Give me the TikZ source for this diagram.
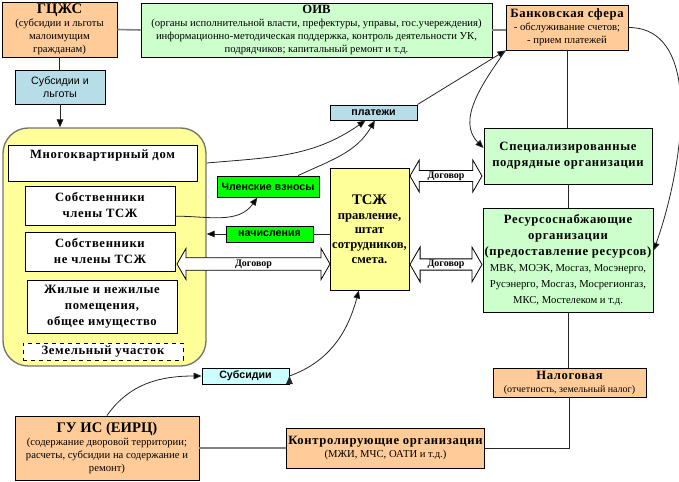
\documentclass[tikz,border=0pt]{standalone}
\usepackage{fontspec}
\setmainfont{Liberation Serif}
\setsansfont{Liberation Sans}
\newfontfamily\spacedserif{Liberation Serif}[LetterSpace=5]
\usepackage{tikz}
\usetikzlibrary{arrows.meta,shapes.arrows}

\definecolor{orangefill}{HTML}{FFCC99}
\definecolor{greenfill}{HTML}{CCFFCC}
\definecolor{yellowfill}{HTML}{FFFF99}
\definecolor{bluefill}{HTML}{B7DEE8}
\definecolor{cyanfill}{HTML}{CCFFFF}
\definecolor{brightgreen}{HTML}{00FF00}

\newcommand{\hdr}{\spacedserif\bfseries\fontsize{9.5}{12}\selectfont}
\newcommand{\sml}{\normalfont\fontsize{8}{9.75}\selectfont}
\newcommand{\lbl}{\sffamily\bfseries\fontsize{8}{9}\selectfont}
\newcommand{\bigttl}{\normalfont\bfseries\fontsize{11}{13}\selectfont}

\begin{document}
\begin{tikzpicture}[x=0.75pt,y=-0.75pt,
	box/.style={draw,line width=0.7pt,inner sep=1pt,align=center,font=\sml},
	tag/.style={draw,line width=0.7pt,inner sep=0pt,font=\lbl},
	dogovor/.style={double arrow,draw,fill=white,line width=0.6pt,inner sep=0pt,
		double arrow tip angle=120,font=\bfseries\fontsize{7.5}{9}\selectfont},
	conn/.style={line width=0.6pt,draw=black!85},
	grayline/.style={line width=1.2pt,draw=black!50}]
	\useasboundingbox (0,0) rectangle (679,482);
	% top row
	\node[box,fill=orangefill,minimum width=86.25pt,minimum height=41.25pt] (gczhs) at (59.5,29.5)
		{\bigttl ГЦЖС\\ (субсидии и льготы\\ малоимущим\\ гражданам)};
	\node[box,fill=greenfill,minimum width=263.25pt,minimum height=40.5pt] (oiv) at (316.5,30)
		{\bfseries\fontsize{9.5}{11}\selectfont ОИВ\\ (органы исполнительной власти, префектуры, управы, гос.учереждения)\\
		информационно-методическая поддержка, контроль деятельности УК,\\ подрядчиков; капитальный ремонт и т.д.};
	\node[box,fill=orangefill,minimum width=91.5pt,minimum height=33.75pt] (bank) at (567,27.5)
		{\hdr Банковская сфера\\ - обслуживание счетов;\\ - прием платежей};
	\node[box,fill=bluefill,minimum width=67.5pt,minimum height=25.5pt,font=\sffamily\fontsize{8}{10}\selectfont] (subl) at (60,87)
		{Субсидии и\\ льготы};
	%
	% house
	\node[draw=black!55,fill=yellowfill,rounded corners=19pt,line width=1pt,
		minimum width=152.25pt,minimum height=178.5pt] (house) at (104.5,247) {};
	\node[box,fill=white,minimum width=141.75pt,minimum height=27pt,text depth=14pt,font=\hdr] (mkd) at (102.5,163)
		{Многоквартирный дом};
	\node[box,fill=white,minimum width=112.5pt,minimum height=29.25pt,font=\hdr] (chl) at (100,205.5)
		{Собственники\\ члены ТСЖ};
	\node[box,fill=white,minimum width=112.5pt,minimum height=29.25pt,font=\hdr] (nechl) at (100,251.5)
		{Собственники\\ не члены ТСЖ};
	\node[box,fill=white,minimum width=112.5pt,minimum height=39.75pt,font=\hdr] (pom) at (102,306.5)
		{Жилые и нежилые\\ помещения,\\ общее имущество};
	\node[box,fill=white,dashed,minimum width=120pt,minimum height=12.75pt,inner sep=0pt,font=\hdr] (zem) at (103,351.5)
		{Земельный участок};
	%
	% middle
	\node[tag,fill=bluefill,minimum width=65.25pt,minimum height=11.25pt] (plat) at (373.5,112.5) {платежи};
	\node[tag,fill=brightgreen,minimum width=76.5pt,minimum height=15.75pt] (vzn) at (268,186.5) {Членские взносы};
	\node[tag,fill=brightgreen,minimum width=65.25pt,minimum height=12pt] (nach) at (269.5,234) {начисления};
	\node[box,fill=yellowfill,minimum width=59.25pt,minimum height=91.5pt,font=\bfseries\fontsize{9.5}{11}\selectfont] (tszh) at (369.5,229)
		{\bigttl ТСЖ\\ правление,\\ штат\\ сотрудников,\\ смета.};
	\node[dogovor,minimum height=114.75pt,minimum width=23.25pt,double arrow head extend=5.25pt] (dogL) at (253.5,264) {Договор};
	\node[dogovor,minimum height=54pt,minimum width=24pt,double arrow head extend=6.75pt] (dogS) at (446,176) {Договор};
	\node[dogovor,minimum height=54pt,minimum width=26.25pt,double arrow head extend=7.5pt] (dogR) at (446,264.5) {Договор};
	%
	% right column
	\node[box,fill=greenfill,minimum width=126pt,minimum height=42pt,font=\hdr] (spec) at (568,156)
		{Специализированные\\ подрядные организации};
	\node[box,fill=greenfill,minimum width=127.5pt,minimum height=78pt,font=\hdr] (res) at (568,260)
		{Ресурсоснабжающие\\ организации\\ (предоставление ресурсов)\\
		\sml МВК, МОЭК, Мосгаз, Мосэнерго,\\ \sml Русэнерго, Мосгаз, Мосрегионгаз,\\ \sml МКС, Мостелеком и т.д.};
	\node[box,fill=orangefill,minimum width=114.75pt,minimum height=21.75pt] (nal) at (569.5,382.5)
		{\hdr Налоговая\\ \fontsize{7.5}{9}\selectfont (отчетность, земельный налог)};
	%
	% bottom
	\node[box,fill=orangefill,minimum width=144.75pt,minimum height=30pt] (kontr) at (385.5,448)
		{\hdr Контролирующие организации\\ (МЖИ, МЧС, ОАТИ и т.д.)};
	\node[box,fill=orangefill,minimum width=138pt,minimum height=48pt] (gu) at (107,448)
		{\bigttl ГУ ИС (ЕИРЦ)\\ (содержание дворовой территории;\\ расчеты, субсидии на содержание и\\ ремонт)};
	\node[tag,fill=cyanfill,minimum width=65.25pt,minimum height=12pt] (subs) at (245.5,376) {Субсидии};
	%
	\draw[grayline] (gczhs.east) -- (oiv.west);
	\draw[grayline] (oiv.east) -- (bank.west |- oiv.east);
	\draw[grayline] (gu.east |- kontr.west) -- (kontr.west);
	\draw[conn] (gczhs.south) -- (gczhs.south |- subl.north);
	\draw[conn] (bank.south) -- (bank.south |- spec.north);
	\draw[conn] (spec.south) -- (spec.south |- res.north);
	\draw[conn] (res.south) -- (res.south |- nal.north);
	\draw[conn] (nal.south) |- (kontr.east);
	\draw[conn] (tszh.west |- nach) -- (nach.east);
	%
	\path[->,>={Triangle[length=6pt,width=5pt]},conn]
		(subl.south) edge (subl.south |- house.north)
		(house.east |- mkd) edge[out=5,in=215] ([xshift=-6pt]plat.south)
		([xshift=-16pt]vzn.north east) edge[out=25,in=240] ([xshift=1pt]plat.south)
		([yshift=-8pt]chl.east) edge[out=0,in=235] ([xshift=-8pt]vzn.south)
		(nach.west) edge (house.east |- nach)
		(plat.north east) edge (bank.south west)
		(bank.south west) edge[out=235,in=135] ([yshift=6pt]spec.west)
		(bank.east) edge[out=0,in=70,looseness=0.9] ([yshift=7pt]res.east)
		(gu.north) edge[out=55,in=180] (subs.west)
		(subs.east) edge[out=20,in=-105] ([xshift=-8pt]tszh.south);
\end{tikzpicture}
\end{document}
